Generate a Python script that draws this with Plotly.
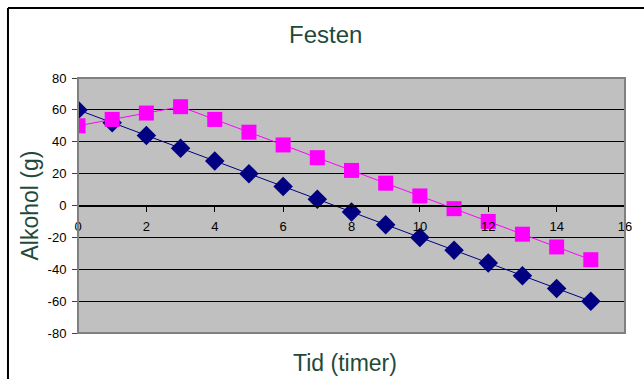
import plotly.graph_objects as go

hours = list(range(16))
series_a = [60, 52, 44, 36, 28, 20, 12, 4, -4, -12, -20, -28, -36, -44, -52, -60]
series_b = [50, 54, 58, 62, 54, 46, 38, 30, 22, 14, 6, -2, -10, -18, -26, -34]
y_ticks = [-80, -60, -40, -20, 0, 20, 40, 60, 80]
x_ticks = [0, 2, 4, 6, 8, 10, 12, 14, 16]

FONT = "Liberation Sans, Arial, sans-serif"
GREEN = "#1F4A3A"

fig = go.Figure()
fig.add_trace(go.Scatter(x=hours, y=series_a, mode="lines+markers",
                         line=dict(color="#000080", width=1),
                         marker=dict(symbol="diamond", size=15, color="#000080"),
                         showlegend=False))
fig.add_trace(go.Scatter(x=hours, y=series_b, mode="lines+markers",
                         line=dict(color="#FF00FF", width=1),
                         marker=dict(symbol="square", size=15, color="#FF00FF"),
                         showlegend=False))

fig.update_layout(
    width=644, height=379,
    margin=dict(l=78, r=12, t=78, b=46),
    paper_bgcolor="white", plot_bgcolor="#C0C0C0",
    font=dict(family=FONT, size=13, color="black"),
    xaxis=dict(range=[0, 16], tickvals=x_ticks, ticktext=[str(v) for v in x_ticks],
               showgrid=False, zeroline=False, showline=True, linecolor="black",
               linewidth=1, ticks="outside", ticklen=5, tickcolor="black",
               anchor="free", position=0.5, tickfont=dict(size=13),
               ticklabelstandoff=4),
    yaxis=dict(range=[-80, 80], tickvals=y_ticks, ticktext=[str(v) for v in y_ticks],
               showgrid=True, gridcolor="black", gridwidth=1, zeroline=False,
               showline=True, linecolor="#404040", linewidth=1,
               ticks="outside", ticklen=5, tickcolor="#404040",
               tickfont=dict(size=13), ticklabelstandoff=3),
    shapes=[
        dict(type="rect", xref="paper", yref="paper", x0=0, x1=1, y0=0, y1=1,
             line=dict(color="#808080", width=2), layer="above"),
        dict(type="line", xref="paper", yref="paper", x0=-0.128, x1=-0.128, y0=-0.3, y1=1.2745,
             line=dict(color="black", width=2), layer="below"),
        dict(type="line", xref="paper", yref="paper", x0=-0.128, x1=1.05, y0=1.2745, y1=1.2745,
             line=dict(color="black", width=2), layer="below"),
    ],
    annotations=[
        dict(text="Festen", xref="paper", yref="paper", x=0.452, y=1.169,
             xanchor="center", yanchor="middle",
             showarrow=False, font=dict(size=24, color=GREEN, family=FONT)),
        dict(text="Alkohol (g)", xref="paper", yref="paper", x=-0.0895, y=0.5,
             xanchor="center", yanchor="middle",
             textangle=-90, showarrow=False, font=dict(size=23, color=GREEN, family=FONT)),
        dict(text="Tid (timer)", xref="paper", yref="paper", x=0.489, y=-0.117,
             xanchor="center", yanchor="middle",
             showarrow=False, font=dict(size=23, color=GREEN, family=FONT)),
    ],
)

fig.write_html("out.html")
